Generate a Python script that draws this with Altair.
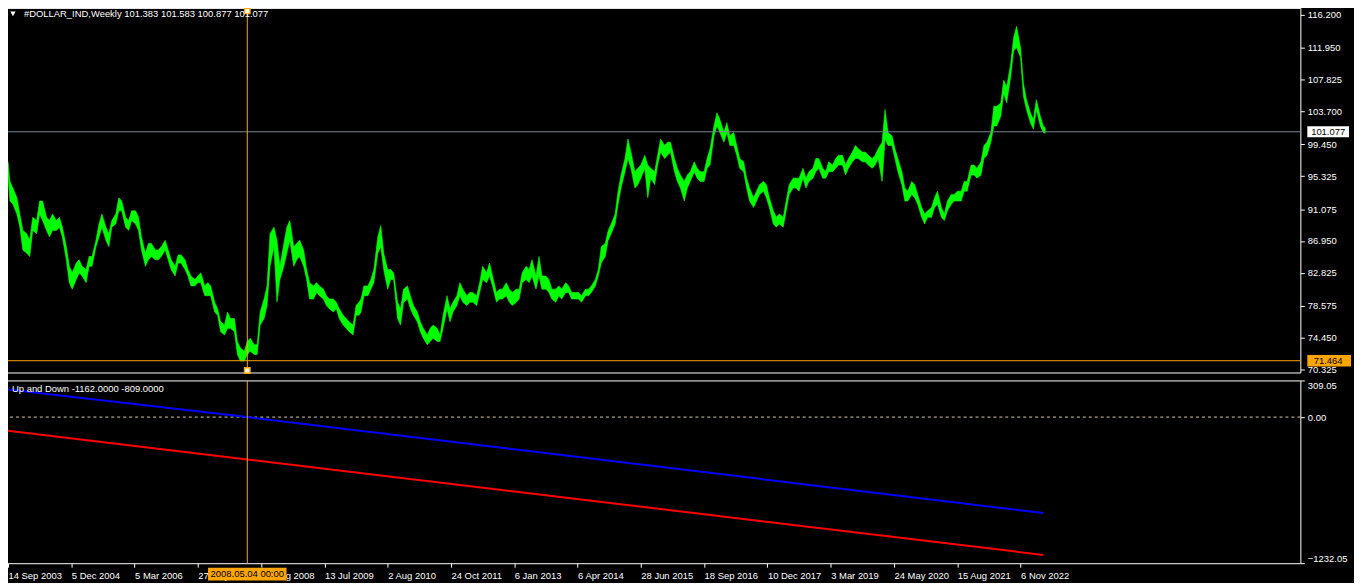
import altair as alt
import pandas as pd

# ---------------- data ----------------
bar_idx = [
    0, 2, 5, 9, 12, 15, 19, 22, 25, 29, 32, 35, 39, 42, 45, 49, 52, 55, 59, 62,
    65, 69, 72, 75, 79, 82, 85, 89, 92, 95, 99, 102, 105, 109, 112, 115, 119, 122, 125, 129,
    132, 135, 139, 142, 145, 149, 152, 155, 159, 162, 165, 169, 172, 175, 179, 182, 185, 189, 192, 195,
    199, 202, 205, 209, 212, 215, 219, 222, 225, 229, 232, 235, 239, 242, 245, 249, 252, 255, 259, 262,
    265, 269, 272, 275, 279, 282, 285, 289, 292, 295, 299, 302, 305, 309, 312, 315, 319, 322, 325, 329,
    332, 335, 339, 342, 345, 349, 352, 355,
    357, 360, 364, 367, 370, 374, 377, 380, 384, 387, 390, 394, 397, 400, 404, 407, 410, 414, 417, 420,
    424, 427, 430, 434, 437, 440, 444, 447, 450, 454, 457, 460, 464, 467, 470, 474, 477, 480, 484, 487,
    490, 494, 497, 500, 504, 507, 510, 514, 517, 520, 524, 527, 530, 534, 537, 540, 544, 547, 550, 554,
    557, 560, 564, 567, 570, 574, 577, 580, 584, 587, 590, 594, 597, 600, 604, 607, 610, 614, 617, 620,
    624, 627, 630, 634, 637, 640, 644, 647, 650, 654, 657, 660, 664, 667, 670, 674, 677, 680, 684, 687,
    690, 694, 697, 700, 704, 707, 710,
    714, 717, 720, 724, 727, 730, 734, 737, 740, 744, 747, 750, 754, 757, 760, 764, 767, 770, 774, 777,
    780, 784, 787, 790, 794, 797, 800, 804, 807, 810, 814, 817, 820, 824, 827, 830, 834, 837, 840, 844,
    847, 850, 854, 857, 860, 864, 867, 870, 874, 877, 880, 884, 887, 890, 894, 897, 900, 904, 907, 910,
    914, 917, 920, 924, 927, 930, 934, 937, 940, 944, 947, 950, 954, 957, 960, 964, 967, 970, 974, 977,
    980, 984, 987, 990, 994, 997, 1000, 1004, 1007, 1010, 1014, 1017, 1020, 1024, 1027, 1030, 1034, 1037, 1040, 1044,
    1047, 1049,
]
bar_high = [
    97.19, 94.66, 93.81, 92.54, 90.43, 88.32, 87.90, 87.05, 90.01, 89.59, 92.12, 92.12, 90.01, 89.59, 90.43, 89.59, 90.01, 88.74, 86.21, 83.67,
    82.83, 84.10, 84.52, 83.67, 83.25, 84.94, 84.94, 87.05, 89.16, 90.43, 88.74, 87.90, 89.59, 90.43, 92.54, 92.12, 90.01, 89.59, 90.85, 90.85,
    90.01, 87.47, 85.36, 86.63, 86.63, 85.79, 85.79, 86.21, 87.05, 85.79, 84.52, 83.67, 85.15, 85.15, 84.52, 83.25, 82.41, 81.98, 82.41, 82.83,
    81.14, 81.56, 81.14, 79.03, 78.18, 76.49, 76.07, 77.76, 76.91, 76.91, 73.96, 73.11, 72.69, 73.96, 74.38, 73.53, 73.53, 77.76, 79.45, 81.14,
    87.90, 88.74, 87.05, 83.67, 86.63, 88.74, 89.59, 86.21, 86.63, 87.05, 85.79, 83.25, 81.56, 81.14, 81.56, 81.14, 80.72, 79.87, 79.45, 79.45,
    79.03, 78.18, 77.34, 76.91, 76.49, 76.07, 78.60, 79.03,
    79.45, 81.14, 81.14, 81.98, 83.25, 87.47, 88.95, 85.36, 83.25, 83.25, 82.83, 79.03, 78.18, 80.72, 81.14, 79.87, 78.60, 77.76, 76.49, 75.65,
    74.80, 75.65, 76.07, 75.65, 74.80, 77.34, 79.87, 78.18, 79.03, 79.87, 81.56, 80.72, 79.87, 80.29, 80.29, 79.87, 81.56, 83.67, 82.83, 84.10,
    82.41, 80.29, 80.72, 80.72, 81.56, 80.72, 80.29, 80.72, 80.72, 82.83, 83.67, 83.25, 84.52, 82.41, 84.94, 82.41, 82.41, 81.98, 80.72, 80.72,
    81.14, 80.72, 81.56, 81.14, 80.29, 80.29, 80.29, 79.87, 80.72, 80.72, 81.14, 81.98, 83.25, 86.21, 86.63, 88.32, 89.16, 90.43, 93.39, 95.50,
    97.61, 100.15, 98.46, 95.92, 96.35, 96.77, 98.04, 96.77, 96.35, 95.92, 98.04, 100.15, 99.30, 99.73, 99.73, 97.61, 96.35, 95.50, 94.66, 95.50,
    95.92, 97.19, 96.35, 95.92, 95.92, 97.61, 98.88,
    101.84, 103.53, 102.68, 100.99, 102.26, 100.57, 100.99, 99.30, 97.61, 97.19, 95.08, 93.81, 92.54, 93.39, 94.23, 94.66, 94.23, 92.54, 90.85, 90.01,
    90.43, 90.01, 92.12, 94.23, 95.08, 95.08, 95.08, 96.35, 95.08, 95.92, 96.35, 97.61, 97.61, 96.35, 95.92, 97.19, 96.77, 97.61, 98.04, 98.04,
    96.77, 97.61, 98.46, 99.30, 98.88, 98.46, 98.46, 98.04, 97.61, 98.04, 98.88, 99.73, 103.95, 100.99, 100.57, 98.88, 97.61, 95.92, 93.81, 93.39,
    94.66, 94.23, 92.97, 91.28, 90.43, 90.85, 91.28, 92.54, 93.39, 91.28, 90.43, 92.12, 92.97, 92.97, 93.39, 93.39, 94.66, 94.66, 96.77, 96.77,
    96.35, 97.19, 99.30, 99.73, 100.99, 104.37, 104.37, 104.79, 107.75, 106.91, 109.86, 113.24, 114.72, 111.98, 107.33, 105.22, 103.53, 102.68, 105.22, 103.10,
    101.84, 101.583,
]
bar_low = [
    95.29, 92.12, 91.70, 90.43, 88.74, 85.79, 85.36, 84.94, 88.32, 87.90, 90.43, 89.59, 88.32, 87.47, 88.32, 88.32, 88.74, 87.47, 84.52, 81.56,
    80.72, 81.98, 82.83, 82.41, 81.56, 83.67, 83.67, 86.21, 87.47, 88.74, 87.05, 86.21, 88.74, 89.16, 90.85, 90.85, 88.74, 88.32, 89.59, 89.16,
    88.32, 85.79, 83.67, 84.52, 84.94, 84.52, 84.52, 84.94, 85.79, 84.52, 83.25, 82.41, 84.10, 84.10, 83.25, 82.41, 81.14, 81.14, 81.56, 81.56,
    79.87, 79.87, 79.87, 77.76, 77.34, 75.22, 74.80, 75.65, 75.65, 75.22, 72.27, 71.42, 71.42, 72.27, 72.69, 72.27, 72.27, 76.07, 76.91, 78.60,
    83.67, 86.21, 79.03, 81.98, 83.67, 85.36, 87.05, 83.67, 84.52, 84.94, 83.67, 81.98, 79.45, 79.45, 80.29, 79.87, 79.45, 78.60, 78.18, 77.76,
    78.18, 76.91, 76.07, 75.65, 75.22, 74.80, 77.34, 77.34,
    77.76, 79.87, 79.87, 80.72, 81.56, 85.36, 86.21, 83.25, 80.72, 81.98, 81.98, 76.91, 76.07, 79.03, 79.45, 78.18, 77.34, 76.49, 75.22, 74.38,
    73.53, 73.96, 74.38, 73.96, 73.96, 75.65, 78.18, 76.49, 77.76, 78.60, 79.87, 79.03, 78.60, 79.03, 79.03, 78.60, 80.29, 81.98, 81.56, 82.41,
    81.14, 79.03, 79.45, 79.45, 79.87, 79.03, 78.60, 79.03, 79.45, 81.56, 81.98, 81.56, 82.41, 80.72, 82.41, 80.72, 80.72, 80.29, 79.45, 79.03,
    79.87, 79.45, 80.29, 80.29, 79.45, 79.45, 79.45, 79.03, 79.87, 79.87, 80.29, 81.14, 82.41, 84.10, 84.94, 87.05, 87.90, 89.16, 91.70, 93.81,
    95.92, 97.61, 96.35, 93.81, 94.23, 95.08, 96.35, 92.54, 95.08, 94.23, 96.77, 98.46, 97.61, 98.04, 98.46, 95.92, 94.66, 93.81, 92.12, 93.81,
    94.66, 95.92, 95.08, 94.66, 94.66, 96.35, 96.77,
    100.57, 101.84, 100.99, 99.73, 100.99, 99.30, 99.30, 98.04, 96.35, 95.92, 93.81, 92.12, 91.28, 92.12, 92.97, 93.39, 92.54, 91.28, 89.16, 88.74,
    89.16, 88.74, 90.85, 92.97, 93.81, 93.81, 93.39, 95.08, 93.81, 94.66, 95.08, 95.92, 96.35, 95.08, 95.08, 95.92, 95.92, 96.35, 96.77, 96.77,
    95.50, 96.35, 97.19, 97.61, 97.61, 97.19, 97.19, 96.77, 96.35, 96.77, 97.61, 94.66, 100.15, 99.30, 99.30, 97.61, 95.92, 94.23, 92.12, 92.12,
    92.97, 92.54, 91.70, 90.01, 89.16, 90.01, 90.01, 91.28, 91.70, 90.01, 89.59, 90.85, 91.70, 92.12, 92.12, 92.12, 93.39, 93.39, 95.50, 95.50,
    95.08, 95.50, 97.61, 98.04, 99.73, 101.84, 101.84, 103.10, 106.06, 104.79, 108.17, 111.55, 111.98, 110.71, 105.64, 103.95, 102.26, 101.41, 103.95, 101.84,
    100.99, 100.877,
]

price_ticks = [116.2, 111.95, 107.825, 103.7, 99.45, 95.325, 91.075, 86.95, 82.825, 78.575, 74.45, 70.325]
price_range = [69.940, 117.100]

date_tick_idx = [0, 64, 128, 192, 256, 320, 384, 448, 512, 576, 640, 704, 768, 832, 896, 960, 1024]
date_tick_labels = ["14 Sep 2003", "5 Dec 2004", "5 Mar 2006", "27 May 2007", "17 Aug 2008",
                    "13 Jul 2009", "2 Aug 2010", "24 Oct 2011", "6 Jan 2013", "6 Apr 2014",
                    "28 Jun 2015", "18 Sep 2016", "10 Dec 2017", "3 Mar 2019", "24 May 2020",
                    "15 Aug 2021", "6 Nov 2022"]

symbol = "#DOLLAR_IND,Weekly"
ohlc = [101.383, 101.583, 100.877, 101.077]
last_price = [101.077]
cursor_price = [71.464]
cursor_idx = [242]
cursor_label = ["2008.05.04 00:00"]

ind_name = "Up and Down"
ind_idx = [0, 242, 1047]
ind_up = [232, 0, -809]
ind_down = [-115, -357, -1162]
ind_last = [-1162.0, -809.0]
ind_ticks = [309.05, 0.0, -1232.05]
ind_range = [-1232.05, 309.05]

# ---------------- chart ----------------
W, H1, H2 = 1302, 367, 184
FONT = "Liberation Sans"
FS = 9.5
WHITE = "#FFFFFF"
ORANGE = "#FFA500"

bars = pd.DataFrame({"idx": bar_idx, "high": bar_high, "low": bar_low})
ind = pd.DataFrame({"idx": ind_idx, "up": ind_up, "down": ind_down})
lp = pd.DataFrame({"p": last_price})
cp = pd.DataFrame({"p": cursor_price})
cur = pd.DataFrame({"idx": cursor_idx, "label": cursor_label})
title_df = pd.DataFrame({"t": [symbol + "  " + " ".join(f"{v:.3f}" for v in ohlc)]})
ind_title_df = pd.DataFrame({"t": [ind_name + " " + " ".join(f"{v:.4f}" for v in ind_last)]})
zero_df = pd.DataFrame({"z": [0.0]})

xscale = alt.Scale(domain=[-1, 1307], nice=False, zero=False)
yscale = alt.Scale(domain=price_range, nice=False, zero=False)
iscale = alt.Scale(domain=ind_range, nice=False, zero=False)

yaxis = alt.Axis(orient="right", values=price_ticks, format=".3f", title=None, grid=False,
                 domain=False, tickColor=WHITE, tickSize=4, labelColor=WHITE,
                 labelFont=FONT, labelFontSize=FS, labelPadding=3)
iaxis = alt.Axis(orient="right", values=ind_ticks, format=".2f", title=None, grid=False,
                 domain=False, tickColor=WHITE, tickSize=4, labelColor=WHITE,
                 labelFont=FONT, labelFontSize=FS, labelPadding=3, labelFlush=True)
label_js = "[" + ",".join("'" + s + "'" for s in date_tick_labels) + "]"
xaxis = alt.Axis(orient="bottom", values=date_tick_idx, title=None, grid=False, domain=False,
                 tickColor=WHITE, tickSize=4, labelColor=WHITE, labelFont=FONT,
                 labelFontSize=FS, labelAlign="left", labelPadding=3,
                 labelExpr=label_js + "[round(datum.value/64)]")

X_top = alt.X("idx:Q", scale=xscale, axis=None)

box_path = "M-1,-0.26L1,-0.26L1,0.26L-1,0.26Z"
xbox_path = "M-1,-0.16L1,-0.16L1,0.16L-1,0.16Z"

price_band = alt.Chart(bars).mark_area(color="#00FF00", stroke="#00FF00", strokeWidth=0.6,
                                       interpolate="linear").encode(
    x=X_top, y=alt.Y("low:Q", scale=yscale, axis=yaxis), y2="high:Q")
lp_rule = alt.Chart(lp).mark_rule(color="#778899", strokeWidth=1).encode(
    y=alt.Y("p:Q", scale=yscale, axis=yaxis))
cp_rule = alt.Chart(cp).mark_rule(color=ORANGE, strokeWidth=1).encode(
    y=alt.Y("p:Q", scale=yscale, axis=yaxis))
cur_rule_top = alt.Chart(cur).mark_rule(color=ORANGE, strokeWidth=1).encode(x=X_top)
lp_box = alt.Chart(lp).mark_point(shape=box_path, size=42 * 42, filled=True, color=WHITE,
                                  opacity=1, strokeWidth=0).encode(
    x=alt.value(W + 28), y=alt.Y("p:Q", scale=yscale, axis=yaxis))
lp_text = alt.Chart(lp).mark_text(color="#000000", font=FONT, fontSize=FS).encode(
    x=alt.value(W + 28), y=alt.Y("p:Q", scale=yscale, axis=yaxis),
    text=alt.Text("p:Q", format=".3f"))
cp_box = alt.Chart(cp).mark_point(shape=box_path, size=44 * 44, filled=True, color=ORANGE,
                                  opacity=1, strokeWidth=0).encode(
    x=alt.value(W + 29), y=alt.Y("p:Q", scale=yscale, axis=yaxis))
cp_text = alt.Chart(cp).mark_text(color="#000000", font=FONT, fontSize=FS).encode(
    x=alt.value(W + 28), y=alt.Y("p:Q", scale=yscale, axis=yaxis),
    text=alt.Text("p:Q", format=".3f"))
mark_top = alt.Chart(cur).mark_point(shape="square", size=30, filled=True, fill=WHITE,
                                     stroke=ORANGE, strokeWidth=1.5, opacity=1).encode(
    x=X_top, y=alt.value(3))
mark_bot = alt.Chart(cur).mark_point(shape="square", size=30, filled=True, fill=WHITE,
                                     stroke=ORANGE, strokeWidth=1.5, opacity=1).encode(
    x=X_top, y=alt.value(H1 - 2))
tri = alt.Chart(title_df).mark_point(shape="triangle-down", filled=True, color=WHITE,
                                     size=28, opacity=1).encode(
    x=alt.value(6), y=alt.value(6))
title_txt = alt.Chart(title_df).mark_text(align="left", baseline="middle", color=WHITE,
                                          font=FONT, fontSize=FS).encode(
    x=alt.value(17), y=alt.value(6), text="t:N")

top = alt.layer(price_band, lp_rule, cp_rule, cur_rule_top, lp_box, lp_text, cp_box, cp_text,
                mark_top, mark_bot, tri, title_txt).properties(width=W, height=H1)

X_bot = alt.X("idx:Q", scale=xscale, axis=xaxis)
zero_rule = alt.Chart(zero_df).mark_rule(color="#D8D0A0", strokeDash=[3, 3], strokeWidth=1).encode(
    y=alt.Y("z:Q", scale=iscale, axis=iaxis))
up_line = alt.Chart(ind).mark_line(color="#0000FF", strokeWidth=2).encode(
    x=X_bot, y=alt.Y("up:Q", scale=iscale, axis=iaxis))
down_line = alt.Chart(ind).mark_line(color="#FF0000", strokeWidth=2).encode(
    x=X_bot, y=alt.Y("down:Q", scale=iscale, axis=iaxis))
cur_rule_bot = alt.Chart(cur).mark_rule(color=ORANGE, strokeWidth=1).encode(x=X_bot)
cur_box = alt.Chart(cur).mark_point(shape=xbox_path, size=79 * 79, filled=True, color=ORANGE,
                                    opacity=1, strokeWidth=0).encode(
    x=X_bot, y=alt.value(H2 + 11))
cur_text = alt.Chart(cur).mark_text(color="#000000", font=FONT, fontSize=FS).encode(
    x=X_bot, y=alt.value(H2 + 11), text="label:N")
ind_title = alt.Chart(ind_title_df).mark_text(align="left", baseline="middle", color=WHITE,
                                              font=FONT, fontSize=FS).encode(
    x=alt.value(5), y=alt.value(9), text="t:N")

bottom = alt.layer(zero_rule, up_line, down_line, cur_rule_bot, cur_box, cur_text,
                   ind_title).properties(width=W, height=H2)

chart = alt.vconcat(top, bottom, spacing=2, background="#000000",
                    padding={"left": -5, "top": -6, "right": 2, "bottom": 0},
                    ).configure_view(stroke=WHITE, strokeWidth=1, fill="#000000")

chart.save("out.html", embed_options={"renderer": "svg", "actions": False})
